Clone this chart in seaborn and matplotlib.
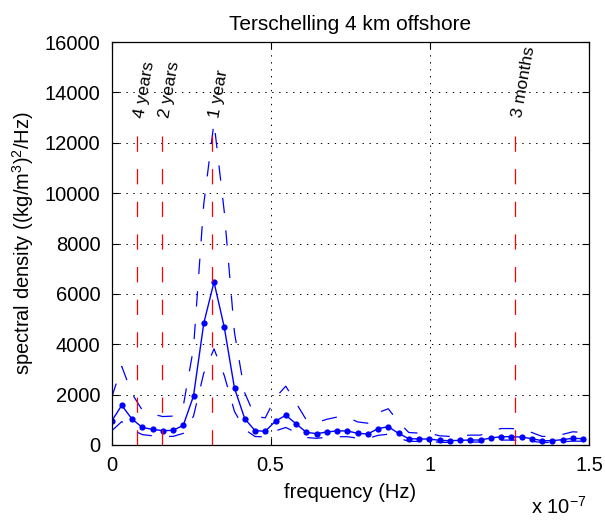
import matplotlib
matplotlib.use("Agg")
import matplotlib.pyplot as plt
import seaborn as sns
import pandas as pd

# ---- data (frequency in units of 1e-7 Hz) ----
freq_e7 = [0.0000, 0.0322, 0.0644, 0.0966, 0.1288, 0.1610, 0.1932, 0.2254, 0.2576, 0.2898,
           0.3220, 0.3542, 0.3864, 0.4186, 0.4508, 0.4830, 0.5152, 0.5474, 0.5796, 0.6118,
           0.6440, 0.6762, 0.7084, 0.7406, 0.7728, 0.8050, 0.8372, 0.8694, 0.9016, 0.9338,
           0.9660, 0.9982, 1.0304, 1.0626, 1.0948, 1.1270, 1.1592, 1.1914, 1.2236, 1.2558,
           1.2880, 1.3202, 1.3524, 1.3846, 1.4168, 1.4490, 1.4812]
spectrum = [940, 1575, 1030, 700, 620, 570, 580, 780, 1945, 4830,
            6470, 4680, 2250, 1045, 570, 545, 950, 1180, 845, 505,
            450, 515, 560, 560, 463, 437, 648, 727, 463, 251,
            238, 238, 185, 172, 185, 198, 198, 278, 330, 330,
            317, 251, 172, 172, 212, 265, 251]
upper = [1861, 3119, 2039, 1386, 1228, 1129, 1148, 1544, 3851, 9563,
         12811, 9266, 4455, 2069, 1129, 1079, 1881, 2336, 1673, 1000,
         891, 1020, 1109, 1109, 917, 865, 1283, 1439, 917, 497,
         471, 471, 366, 341, 366, 392, 392, 550, 653, 653,
         628, 497, 341, 341, 420, 525, 497]
lower = [555, 929, 608, 413, 366, 336, 342, 460, 1148, 2850,
         3817, 2761, 1328, 617, 336, 322, 561, 696, 499, 298,
         266, 304, 330, 330, 273, 258, 382, 429, 273, 148,
         140, 140, 109, 101, 109, 117, 117, 164, 195, 195,
         187, 148, 101, 101, 125, 156, 148]
period_labels = ["4 years", "2 years", "1 year", "3 months"]
period_freq_e7 = [0.0792, 0.1584, 0.3169, 1.2675]
period_line_top = 12800
xticks = [0, 0.5, 1, 1.5]
xtick_labels = ["0", "0.5", "1", "1.5"]
yticks = [0, 2000, 4000, 6000, 8000, 10000, 12000, 14000, 16000]

sns.set_style("ticks")
plt.rcParams['font.family'] = ['Liberation Sans', 'DejaVu Sans']
plt.rcParams['mathtext.fontset'] = 'custom'
plt.rcParams['mathtext.rm'] = 'Liberation Sans'
plt.rcParams['mathtext.it'] = 'Liberation Sans:italic'
plt.rcParams['mathtext.bf'] = 'Liberation Sans:bold'
plt.rcParams['lines.scale_dashes'] = False
plt.rcParams['text.color'] = 'black'
plt.rcParams['axes.labelcolor'] = 'black'
plt.rcParams['xtick.color'] = 'black'
plt.rcParams['ytick.color'] = 'black'

FS = 14.5
fig = plt.figure(figsize=(6.05, 5.2), dpi=100)
ax = fig.add_axes([111.5 / 605, 1 - 445 / 520, (589 - 111.5) / 605, (445 - 42) / 520])

df = pd.DataFrame(dict(f=freq_e7, s=spectrum, up=upper, lo=lower))
dash = (0, (11, 12.5))
sns.lineplot(data=df, x='f', y='up', color='blue', lw=0.9, linestyle=dash, ax=ax)
sns.lineplot(data=df, x='f', y='lo', color='blue', lw=0.9, linestyle=dash, ax=ax)
sns.lineplot(data=df, x='f', y='s', color='blue', lw=1.0, marker='o', markersize=4.5,
             markeredgewidth=0, ax=ax)

ax.vlines(period_freq_e7, 0, period_line_top, colors='red', linestyles=[dash], linewidth=0.9)
for f, lab in zip(period_freq_e7, period_labels):
    ax.text(f + 0.008, 13000, lab, rotation=80, rotation_mode='anchor', ha='left', va='center',
            fontsize=12.5, color='black')

ax.set_xlim(0, 1.5)
ax.set_ylim(0, 16000)
ax.set_xticks(xticks)
ax.set_xticklabels(xtick_labels)
ax.set_yticks(yticks)
ax.set_yticklabels([str(v) for v in yticks])
ax.grid(True, linestyle=(0, (1, 4)), color='k', linewidth=0.7)
ax.set_axisbelow(True)
ax.tick_params(direction='in', top=True, right=True, length=5, width=0.8,
               labelsize=FS, pad=8, colors='k')
for sp in ax.spines.values():
    sp.set_visible(True)
    sp.set_linewidth(0.9)
    sp.set_color('k')

ax.set_xlabel("frequency (Hz)", fontsize=FS, labelpad=6, color='black')
ax.set_ylabel(r"spectral density ((kg/m$^3$)$^2$/Hz)", fontsize=FS, labelpad=6, color='black')
ax.set_title("Terschelling 4 km offshore", fontsize=15, pad=9, color='black')
fig.text(531 / 605, 1 - 514 / 520, r"x 10$^{-7}$", fontsize=FS, ha='left', va='baseline',
         color='black')

fig.savefig("out.png", dpi=100)
